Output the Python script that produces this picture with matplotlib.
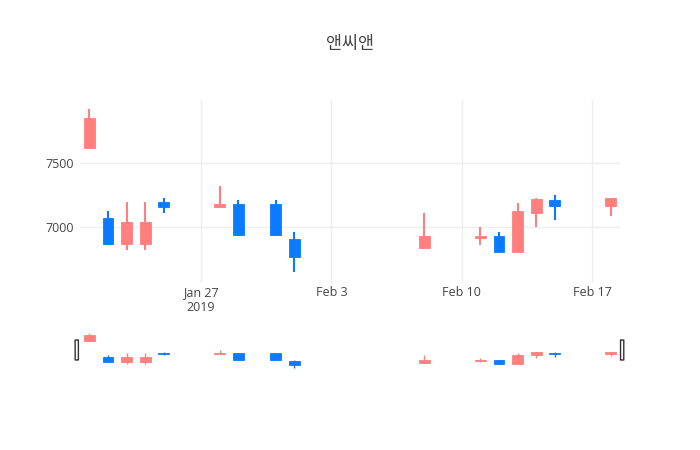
import matplotlib
matplotlib.use("Agg")
import matplotlib.pyplot as plt
import matplotlib.dates as mdates
from matplotlib.patches import FancyBboxPatch
import pandas as pd

# ----------------------------
# Data
# ----------------------------
dates = ["2019-01-21", "2019-01-22", "2019-01-23", "2019-01-24", "2019-01-25",
         "2019-01-28", "2019-01-29", "2019-01-31", "2019-02-01",
         "2019-02-08", "2019-02-11", "2019-02-12", "2019-02-13", "2019-02-14",
         "2019-02-15", "2019-02-18"]
open_ = [7620, 7070, 6870, 6870, 7200, 7160, 7180, 7180, 6910,
         6840, 6920, 6930, 6810, 7110, 7210, 7170]
high = [7920, 7130, 7200, 7200, 7230, 7320, 7210, 7210, 6960,
        7110, 7000, 6960, 7190, 7230, 7250, 7230]
low = [7610, 6860, 6820, 6820, 7110, 7160, 6930, 6930, 6650,
       6830, 6860, 6810, 6810, 7000, 7060, 7090]
close = [7850, 6870, 7040, 7040, 7160, 7180, 6940, 6940, 6770,
         6930, 6930, 6810, 7130, 7220, 7170, 7230]

title = "앤씨앤"
tick_dates = ["2019-01-27", "2019-02-03", "2019-02-10", "2019-02-17"]
tick_labels = ["Jan 27\n2019", "Feb 3", "Feb 10", "Feb 17"]
y_ticks = [7000, 7500]

UP = "#ff7f7f"
DOWN = "#0a7bff"

x = mdates.date2num(pd.to_datetime(dates))


def draw_candles(ax, lw):
    for xi, o, h, l, c in zip(x, open_, high, low, close):
        col = UP if c >= o else DOWN
        ax.vlines(xi, l, h, color=col, linewidth=lw, zorder=2)
        ax.bar(xi, max(abs(c - o), 1), bottom=min(o, c), width=0.58,
               color=col, edgecolor=col, linewidth=0.6, zorder=3)


# ----------------------------
# Figure
# ----------------------------
fig = plt.figure(figsize=(7, 4.5), dpi=100)

ax = fig.add_axes([80 / 700, 1 - 283 / 450, 540 / 700, 183 / 450])
draw_candles(ax, 1.5)

xmin = mdates.date2num(pd.Timestamp("2019-01-20 12:00"))
xmax = mdates.date2num(pd.Timestamp("2019-02-18 12:00"))
ax.set_xlim(xmin, xmax)
ax.set_ylim(6565, 7994)

ax.set_xticks(mdates.date2num(pd.to_datetime(tick_dates)))
ax.set_xticklabels(tick_labels)
ax.set_yticks(y_ticks)
ax.set_yticklabels([str(v) for v in y_ticks])
ax.tick_params(length=0, labelsize=9, labelcolor="#444444", pad=4)
ax.tick_params(axis="x", pad=2)
for lbl in ax.get_xticklabels() + ax.get_yticklabels():
    lbl.set_family(["Open Sans", "DejaVu Sans"])
ax.grid(True, color="#eeeeee", linewidth=1)
ax.set_axisbelow(True)
for s in ax.spines.values():
    s.set_visible(False)

# range slider
ax2 = fig.add_axes([80 / 700, 1 - 370 / 450, 540 / 700, 40 / 450])
draw_candles(ax2, 1.0)
ax2.set_xlim(xmin, xmax)
ax2.set_ylim(6587, 8021)
ax2.set_xticks([])
ax2.set_yticks([])
for s in ax2.spines.values():
    s.set_visible(False)

for hx in (-0.006, 1.004):
    ax2.add_patch(FancyBboxPatch((hx - 0.003, 0.25), 0.006, 0.5,
                                 boxstyle="round,pad=0,rounding_size=0.003",
                                 transform=ax2.transAxes, clip_on=False,
                                 facecolor="white", edgecolor="#333333",
                                 linewidth=1, zorder=5))

fig.text(0.5, 1 - 44 / 450, title, ha="center", va="center", fontsize=12.5,
         color="#444444", family=["Noto Sans CJK KR", "DejaVu Sans"])

fig.savefig("out.png", dpi=100)
